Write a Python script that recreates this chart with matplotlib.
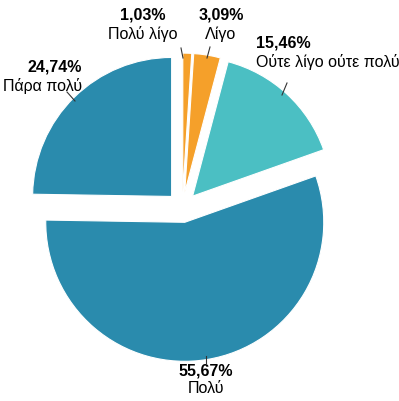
import matplotlib
matplotlib.use("Agg")
import matplotlib.pyplot as plt

# values clockwise from the top
labels = ["Πολύ λίγο", "Λίγο", "Ούτε λίγο ούτε πολύ", "Πολύ", "Πάρα πολύ"]
values = [1.03, 3.09, 15.46, 55.67, 24.74]
pct_text = ["1,03%", "3,09%", "15,46%", "55,67%", "24,74%"]
colors = ["#F5A02A", "#F5A02A", "#4BBFC3", "#2A8BAD", "#2A8BAD"]

# label anchor (pixel coords, y down) and leader lines
label_pos = [(143, 8, "center"), (221, 8, "center"), (256, 36, "left"),
             (206, 363, "center"), (82, 60, "right")]
leaders = [((181, 48), (183, 58)), ((210, 47), (207, 58)),
           ((287, 83), (282, 95)), ((206, 356), (206, 363)),
           ((67, 92), (75, 101))]

W, H = 399, 401
plt.rcParams["font.family"] = ["Liberation Sans", "DejaVu Sans"]

fig = plt.figure(figsize=(W / 100, H / 100), dpi=100)
ax = fig.add_axes([0, 0, 1, 1])

R = 139
ax.pie(values, colors=colors, startangle=90, counterclock=False,
       radius=R, center=(182.3, H - 207.3), explode=[15.2] * len(values),
       wedgeprops=dict(linewidth=0.8, edgecolor="white"), frame=True)
ax.set_xlim(0, W)
ax.set_ylim(0, H)
ax.set_aspect("equal")
ax.axis("off")

for (x, y, ha), p, lab in zip(label_pos, pct_text, labels):
    ax.text(x, H - y, p, ha=ha, va="top", fontsize=11.5, fontweight="bold")
    ax.text(x, H - y - 18, lab, ha=ha, va="top", fontsize=11.5)

for (a, b) in leaders:
    ax.plot([a[0], b[0]], [H - a[1], H - b[1]], color="#333333", lw=0.8)

fig.savefig("out.png", dpi=100)
